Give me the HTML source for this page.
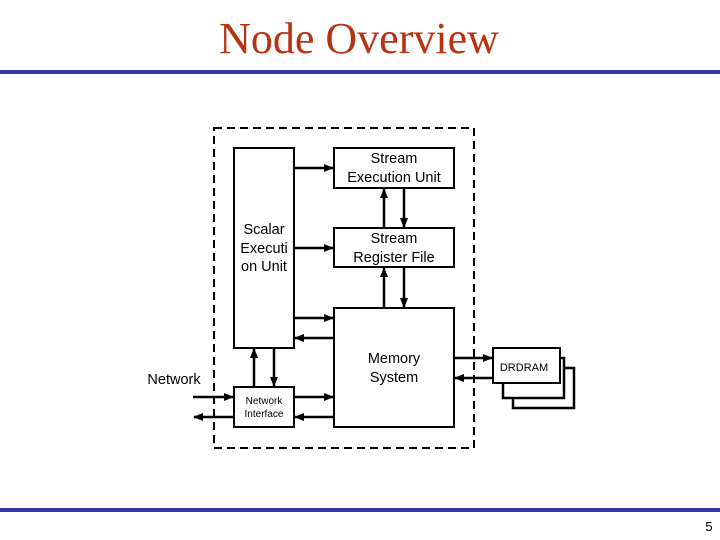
<!DOCTYPE html>
<html><head><meta charset="utf-8"><style>
html,body{margin:0;padding:0;background:#fff;}
body{width:720px;height:540px;position:relative;overflow:hidden;}
</style></head><body>
<svg width="720" height="540" viewBox="0 0 720 540" xmlns="http://www.w3.org/2000/svg" style="position:absolute;left:0;top:0">
<defs>
<marker id="a" markerWidth="10" markerHeight="8" refX="9" refY="4" orient="auto" markerUnits="userSpaceOnUse">
<path d="M0,0 L10,4 L0,8 z" fill="#000"/>
</marker>
</defs>
<text x="359" y="53" text-anchor="middle" font-family="Liberation Serif, serif" font-size="44" fill="#b83210">Node Overview</text>
<rect x="0" y="70" width="720" height="4" fill="#3535a8"/>
<rect x="0" y="508" width="720" height="4" fill="#3535a8"/>
<text x="709" y="531" text-anchor="middle" font-family="Liberation Sans, sans-serif" font-size="13" fill="#000">5</text>

<rect x="214" y="128" width="260" height="320" fill="none" stroke="#000" stroke-width="2" stroke-dasharray="8,5"/>

<g fill="#fff" stroke="#000" stroke-width="2">
<rect x="234" y="148" width="60" height="200"/>
<rect x="334" y="148" width="120" height="40"/>
<rect x="334" y="228" width="120" height="39"/>
<rect x="334" y="308" width="120" height="119"/>
<rect x="234" y="387" width="60" height="40"/>
<rect x="513" y="368" width="61" height="40" stroke-width="2.5"/>
<rect x="503" y="358" width="61" height="40" stroke-width="2.5"/>
<rect x="493" y="348" width="67" height="35"/>
</g>

<g stroke="#000" stroke-width="2.5" marker-end="url(#a)">
<line x1="294" y1="168" x2="333" y2="168"/>
<line x1="294" y1="248" x2="333" y2="248"/>
<line x1="294" y1="318" x2="333" y2="318"/>
<line x1="334" y1="338" x2="295" y2="338"/>
<line x1="384" y1="228" x2="384" y2="189"/>
<line x1="404" y1="188" x2="404" y2="227"/>
<line x1="384" y1="308" x2="384" y2="268"/>
<line x1="404" y1="267" x2="404" y2="307"/>
<line x1="254" y1="387" x2="254" y2="349"/>
<line x1="274" y1="348" x2="274" y2="386"/>
<line x1="294" y1="397" x2="333" y2="397"/>
<line x1="334" y1="417" x2="295" y2="417"/>
<line x1="193" y1="397" x2="233" y2="397"/>
<line x1="234" y1="417" x2="194" y2="417"/>
<line x1="454" y1="358" x2="492" y2="358"/>
<line x1="493" y1="378" x2="455" y2="378"/>
</g>

<g font-family="Liberation Sans, sans-serif" fill="#000" text-anchor="middle">
<text x="394" y="163" font-size="14.5">Stream</text>
<text x="394" y="182" font-size="14.5">Execution Unit</text>
<text x="394" y="243" font-size="14.5">Stream</text>
<text x="394" y="262" font-size="14.5">Register File</text>
<text x="264" y="234" font-size="14.5">Scalar</text>
<text x="264" y="253" font-size="14.5">Executi</text>
<text x="264" y="271" font-size="14.5">on Unit</text>
<text x="394" y="363" font-size="14.5">Memory</text>
<text x="394" y="382" font-size="14.5">System</text>
<text x="264" y="404" font-size="10">Network</text>
<text x="264" y="417" font-size="10">Interface</text>
<text x="524" y="371" font-size="11">DRDRAM</text>
<text x="174" y="384" font-size="14.5">Network</text>
</g>
</svg>
</body></html>
